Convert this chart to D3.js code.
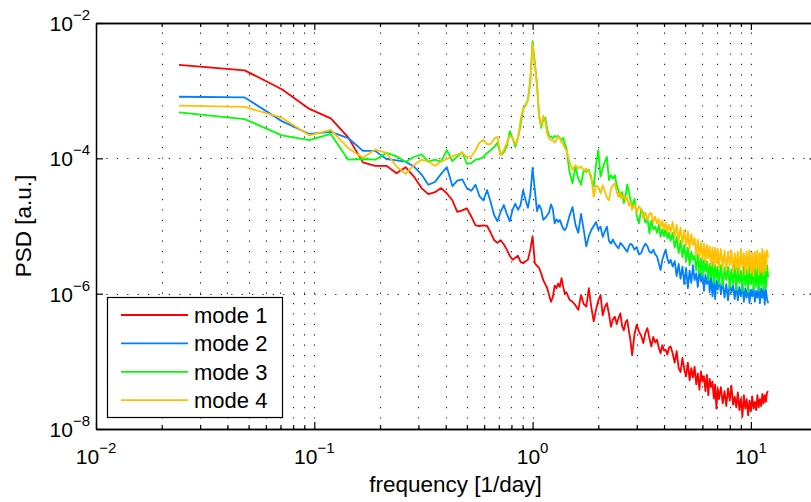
<!DOCTYPE html>
<html><head><meta charset="utf-8">
<script src="https://cdn.jsdelivr.net/npm/d3@7"></script>
<style>
body{margin:0;background:#fff}
svg{display:block}
text{font-family:"Liberation Sans",Arial,Helvetica,sans-serif;fill:#000}
</style>
</head><body>
<svg id="chart" width="811" height="502"></svg>
<script>
// frequency bins [1/day] (spectral resolution 1/42 day^-1)
const freq = [
0.024,0.048,0.071,0.095,0.119,0.143,0.167,0.190,0.214,0.238,
0.262,0.286,0.310,0.333,0.357,0.381,0.405,0.429,0.452,0.476,
0.500,0.524,0.548,0.571,0.595,0.619,0.643,0.667,0.690,0.714,
0.738,0.762,0.786,0.810,0.833,0.857,0.881,0.905,0.929,0.952,
0.976,1.000,1.024,1.048,1.071,1.095,1.119,1.143,1.167,1.190,
1.214,1.238,1.262,1.286,1.310,1.333,1.357,1.381,1.405,1.429,
1.476,1.524,1.571,1.619,1.667,1.714,1.762,1.810,1.857,1.905,
1.952,2.000,2.048,2.095,2.143,2.190,2.238,2.286,2.333,2.381,
2.429,2.476,2.524,2.571,2.619,2.667,2.714,2.762,2.810,2.857,
2.929,3.000,3.071,3.143,3.214,3.286,3.357,3.429,3.500,3.571,
3.643,3.714,3.786,3.857,3.929,4.000,4.071,4.143,4.214,4.286,
4.381,4.476,4.571,4.667,4.762,4.857,4.952,5.048,5.143,5.238,
5.333,5.429,5.524,5.619,5.714,5.810,5.905,6.000,6.095,6.190,
6.286,6.381,6.476,6.571,6.667,6.762,6.857,6.952,7.048,7.143,
7.286,7.429,7.571,7.714,7.857,8.000,8.143,8.286,8.429,8.571,
8.714,8.857,9.000,9.143,9.286,9.429,9.571,9.714,9.857,10.000,
10.143,10.286,10.429,10.571,10.714,10.857,11.000,11.143,11.286,11.429,
11.571,11.714,11.857,12.000
];

// PSD values, stored as log10(PSD [a.u.])
const mode1 = [
-2.62,-2.70,-2.98,-3.27,-3.41,-3.69,-4.06,-4.11,-4.11,-4.22,
-4.13,-4.27,-4.44,-4.53,-4.50,-4.44,-4.52,-4.62,-4.79,-4.77,
-4.74,-4.86,-4.99,-5.00,-4.99,-5.00,-5.10,-5.21,-5.25,-5.21,
-5.27,-5.35,-5.44,-5.50,-5.47,-5.44,-5.53,-5.55,-5.52,-5.50,
-5.35,-5.15,-5.55,-5.59,-5.62,-5.70,-5.80,-5.86,-5.92,-6.02,
-6.12,-6.05,-5.88,-5.92,-5.85,-5.90,-5.77,-5.90,-6.00,-5.98,
-6.09,-6.12,-6.17,-6.24,-6.02,-6.15,-6.19,-5.92,-6.20,-6.41,
-6.24,-6.10,-6.02,-6.32,-6.20,-6.14,-6.30,-6.49,-6.38,-6.34,
-6.45,-6.36,-6.29,-6.48,-6.54,-6.42,-6.39,-6.55,-6.70,-6.91,
-6.60,-6.46,-6.56,-6.62,-6.73,-6.58,-6.51,-6.66,-6.78,-6.64,
-6.72,-6.68,-6.80,-6.88,-6.76,-6.84,-6.83,-6.90,-6.80,-6.78,
-6.88,-7.02,-6.85,-7.10,-7.16,-6.95,-7.12,-7.22,-7.02,-7.28,
-7.10,-7.24,-7.08,-7.34,-7.18,-7.42,-7.15,-7.30,-7.22,-7.44,
-7.20,-7.50,-7.26,-7.38,-7.30,-7.55,-7.34,-7.70,-7.40,-7.56,
-7.38,-7.62,-7.44,-7.66,-7.40,-7.58,-7.36,-7.64,-7.52,-7.68,
-7.46,-7.72,-7.55,-7.82,-7.50,-7.70,-7.56,-7.80,-7.58,-7.74,
-7.52,-7.70,-7.60,-7.72,-7.50,-7.68,-7.56,-7.66,-7.48,-7.62,
-7.50,-7.60,-7.46,-7.44
];
const mode2 = [
-3.09,-3.10,-3.45,-3.64,-3.61,-3.70,-3.89,-3.89,-4.01,-4.03,
-4.05,-4.12,-4.24,-4.39,-4.35,-4.23,-4.13,-4.41,-4.33,-4.31,
-4.44,-4.48,-4.39,-4.56,-4.62,-4.47,-4.65,-4.84,-4.93,-4.79,
-4.69,-4.82,-4.93,-4.76,-4.67,-4.76,-4.69,-4.47,-4.62,-4.73,
-4.54,-4.14,-4.47,-4.78,-4.69,-4.75,-4.91,-4.88,-4.84,-4.80,
-4.68,-4.75,-4.96,-4.90,-4.94,-4.91,-4.98,-5.04,-5.06,-5.02,
-4.85,-4.72,-4.98,-5.10,-4.82,-5.05,-5.30,-5.15,-5.06,-5.00,
-4.94,-5.05,-5.01,-5.16,-5.08,-5.01,-5.22,-5.26,-5.20,-5.26,
-5.30,-5.33,-5.25,-5.28,-5.31,-5.35,-5.38,-5.30,-5.26,-5.28,
-5.35,-5.31,-5.42,-5.40,-5.32,-5.26,-5.30,-5.38,-5.40,-5.35,
-5.42,-5.45,-5.55,-5.65,-5.50,-5.42,-5.35,-5.48,-5.55,-5.50,
-5.60,-5.52,-5.74,-5.56,-5.78,-5.60,-5.86,-5.62,-5.92,-5.66,
-5.84,-5.58,-5.80,-5.70,-5.90,-5.64,-5.82,-5.68,-5.96,-5.72,
-5.86,-5.70,-5.98,-5.74,-6.04,-5.78,-6.08,-5.80,-5.94,-5.76,
-6.00,-5.82,-6.06,-5.86,-6.10,-5.84,-5.98,-5.88,-6.08,-5.86,
-6.10,-5.90,-6.04,-5.86,-6.12,-5.92,-6.06,-5.88,-6.14,-5.94,
-6.04,-5.90,-6.12,-5.96,-6.06,-5.88,-6.14,-5.92,-6.06,-5.90,
-6.16,-5.94,-6.08,-6.14
];
const mode3 = [
-3.32,-3.42,-3.66,-3.73,-3.64,-4.02,-4.01,-4.02,-3.92,-3.97,
-4.05,-3.98,-3.94,-4.05,-4.02,-4.05,-3.88,-4.04,-3.97,-3.91,
-4.08,-4.07,-4.02,-4.01,-3.98,-3.92,-3.88,-3.83,-3.77,-3.95,
-3.91,-3.82,-3.60,-3.70,-3.83,-3.70,-3.51,-3.27,-3.21,-3.14,
-2.84,-2.27,-2.58,-2.92,-3.36,-3.55,-3.43,-3.40,-3.58,-3.67,
-3.68,-3.70,-3.67,-3.68,-3.67,-3.70,-3.73,-3.70,-3.79,-3.85,
-4.20,-4.37,-4.12,-4.30,-4.39,-4.17,-4.20,-4.17,-4.30,-4.42,
-4.10,-3.88,-4.27,-4.15,-4.05,-3.98,-4.32,-4.25,-4.30,-4.25,
-4.40,-4.48,-4.57,-4.50,-4.66,-4.55,-4.39,-4.50,-4.62,-4.71,
-4.60,-4.85,-4.96,-4.75,-4.81,-4.95,-4.88,-5.11,-4.92,-5.05,
-5.01,-5.10,-4.98,-5.16,-5.05,-5.15,-5.06,-5.18,-5.10,-5.22,
-5.10,-5.32,-5.16,-5.40,-5.22,-5.46,-5.28,-5.52,-5.32,-5.58,
-5.38,-5.50,-5.44,-5.66,-5.42,-5.70,-5.48,-5.74,-5.50,-5.68,
-5.52,-5.80,-5.56,-5.76,-5.54,-5.84,-5.58,-5.78,-5.60,-5.86,
-5.58,-5.88,-5.62,-5.80,-5.60,-5.92,-5.64,-5.86,-5.58,-5.94,
-5.62,-5.84,-5.66,-5.96,-5.60,-5.88,-5.64,-5.98,-5.58,-5.86,
-5.56,-5.94,-5.62,-5.90,-5.60,-5.96,-5.56,-5.88,-5.60,-5.94,
-5.56,-5.92,-5.58,-5.76
];
const mode4 = [
-3.22,-3.24,-3.40,-3.66,-3.58,-3.85,-3.99,-3.87,-3.92,-4.12,
-4.23,-4.10,-4.02,-4.05,-4.11,-4.05,-4.01,-3.97,-3.94,-3.92,
-3.98,-3.97,-3.88,-3.77,-3.73,-3.79,-3.79,-3.71,-3.68,-3.95,
-3.88,-3.77,-3.67,-3.70,-3.79,-3.70,-3.43,-3.26,-3.23,-3.14,
-2.90,-2.31,-2.62,-2.92,-3.40,-3.52,-3.37,-3.46,-3.64,-3.70,
-3.73,-3.73,-3.77,-3.73,-3.68,-3.70,-3.76,-3.79,-3.85,-3.88,
-4.05,-4.17,-4.10,-4.15,-4.12,-4.18,-4.15,-4.20,-4.25,-4.57,
-4.40,-4.42,-4.52,-4.40,-4.49,-4.58,-4.62,-4.45,-4.40,-4.37,
-4.50,-4.57,-4.50,-4.60,-4.55,-4.62,-4.58,-4.70,-4.65,-4.76,
-4.68,-4.80,-4.71,-4.75,-4.88,-4.80,-4.91,-4.82,-4.81,-4.95,
-4.86,-4.96,-4.90,-5.02,-4.92,-5.06,-4.95,-5.08,-4.98,-5.10,
-4.94,-5.16,-4.98,-5.22,-5.02,-5.26,-5.06,-5.30,-5.08,-5.34,
-5.12,-5.28,-5.18,-5.44,-5.20,-5.46,-5.24,-5.50,-5.26,-5.54,
-5.28,-5.48,-5.30,-5.58,-5.32,-5.60,-5.32,-5.56,-5.34,-5.62,
-5.34,-5.62,-5.36,-5.66,-5.38,-5.58,-5.36,-5.68,-5.40,-5.64,
-5.38,-5.70,-5.34,-5.62,-5.40,-5.72,-5.38,-5.66,-5.36,-5.70,
-5.40,-5.74,-5.38,-5.64,-5.36,-5.72,-5.40,-5.68,-5.34,-5.72,
-5.38,-5.66,-5.36,-5.46
];

const seriesNames = ["mode 1", "mode 2", "mode 3", "mode 4"];
const seriesColors = ["#ff0000", "#0080ff", "#00ff00", "#ffc000"];
const xTickExponents = [-2, -1, 0, 1];
const yTickExponents = [-8, -6, -4, -2];
const xLabel = "frequency [1/day]";
const yLabel = "PSD [a.u.]";

const series = [mode1, mode2, mode3, mode4];

const svg = d3.select("#chart");
const plot = {left: 96, top: 23, bottom: 429, right: 816.6};

const x = d3.scaleLog().domain([0.01, 20]).range([plot.left, plot.right]);
const y = d3.scaleLog().domain([1e-8, 1e-2]).range([plot.bottom, plot.top]);

const xMajor = xTickExponents.map(e => Math.pow(10, e));
const xMinor = [];
xTickExponents.forEach(e => { for (let k = 2; k <= 9; k++) { const v = k * Math.pow(10, e); if (v <= 20) xMinor.push(v); } });
xMinor.push(20);
const yMajor = yTickExponents.map(e => Math.pow(10, e));

svg.append("defs").append("clipPath").attr("id", "clip")
  .append("rect").attr("x", plot.left).attr("y", plot.top)
  .attr("width", plot.right - plot.left).attr("height", plot.bottom - plot.top);

// grid (dotted)
const grid = svg.append("g").attr("stroke", "#1a1a1a").attr("stroke-width", 1.1)
  .attr("stroke-dasharray", "1.2,9.2").attr("fill", "none");
grid.selectAll("line.vx").data(xMajor.concat(xMinor).filter(v => v > 0.01))
  .join("line").attr("class", "vx")
  .attr("x1", d => Math.round(x(d)) + 0.5).attr("x2", d => Math.round(x(d)) + 0.5)
  .attr("y1", plot.bottom).attr("y2", plot.top);
grid.selectAll("line.hy").data(yMajor.filter(v => v > 1e-8 && v < 1e-2))
  .join("line").attr("class", "hy")
  .attr("y1", d => Math.round(y(d)) + 0.5).attr("y2", d => Math.round(y(d)) + 0.5)
  .attr("x1", plot.left).attr("x2", plot.right);

// series
const line = d3.line().x(d => x(d[0])).y(d => y(Math.pow(10, d[1])));
const lines = svg.append("g").attr("clip-path", "url(#clip)");
series.forEach((vals, i) => {
  const pts = freq.map((f, j) => [f, vals[j]]);
  lines.append("path").datum(pts)
    .attr("fill", "none").attr("stroke", seriesColors[i])
    .attr("stroke-width", 1.8).attr("stroke-linejoin", "round")
    .attr("d", line);
});

// axes (ticks pointing inward)
function styleAxis(g) {
  g.select(".domain").attr("stroke", "#000").attr("stroke-width", 1.5);
  g.selectAll(".tick line").attr("stroke", "#000").attr("stroke-width", 1.2);
  g.selectAll(".tick text").remove();
}
svg.append("g").attr("transform", `translate(0,${plot.bottom})`)
  .call(d3.axisBottom(x).tickValues(xMajor).tickSize(-7).tickSizeOuter(0).tickFormat(""))
  .call(styleAxis);
svg.append("g").attr("transform", `translate(0,${plot.bottom})`)
  .call(d3.axisBottom(x).tickValues(xMinor).tickSize(-4).tickSizeOuter(0).tickFormat(""))
  .call(styleAxis);
svg.append("g").attr("transform", `translate(0,${plot.top})`)
  .call(d3.axisTop(x).tickValues(xMajor).tickSize(-7).tickSizeOuter(0).tickFormat(""))
  .call(styleAxis);
svg.append("g").attr("transform", `translate(0,${plot.top})`)
  .call(d3.axisTop(x).tickValues(xMinor).tickSize(-4).tickSizeOuter(0).tickFormat(""))
  .call(styleAxis);
svg.append("g").attr("transform", `translate(${plot.left},0)`)
  .call(d3.axisLeft(y).tickValues(yMajor).tickSize(-7).tickSizeOuter(0).tickFormat(""))
  .call(styleAxis);
svg.append("g").attr("transform", `translate(${plot.right},0)`)
  .call(d3.axisRight(y).tickValues(yMajor).tickSize(-7).tickSizeOuter(0).tickFormat(""))
  .call(styleAxis);

// tick labels with superscript exponents
function powLabel(sel, e) {
  sel.append("tspan").attr("font-size", 21).text("10");
  sel.append("tspan").attr("font-size", 15).attr("dy", -11).text(e < 0 ? "\u2212" + (-e) : String(e));
}
xTickExponents.forEach(e => {
  const t = svg.append("text").attr("x", x(Math.pow(10, e))).attr("y", 464)
    .attr("text-anchor", "middle");
  powLabel(t, e);
});
yTickExponents.forEach(e => {
  const t = svg.append("text").attr("x", 90).attr("y", y(Math.pow(10, e)) + 8)
    .attr("text-anchor", "end");
  powLabel(t, e);
});

// axis titles
svg.append("text").attr("x", 455.5).attr("y", 491.5).attr("text-anchor", "middle")
  .attr("font-size", 22.5).text(xLabel);
svg.append("text").attr("transform", `translate(31,${(plot.top + plot.bottom) / 2}) rotate(-90)`)
  .attr("text-anchor", "middle").attr("font-size", 22.5).text(yLabel);

// legend
const lg = svg.append("g");
lg.append("rect").attr("x", 107.5).attr("y", 297.5).attr("width", 175).attr("height", 120)
  .attr("fill", "#fff").attr("stroke", "#000").attr("stroke-width", 1.2);
seriesNames.forEach((name, i) => {
  const cy = 315 + i * 28.4;
  lg.append("line").attr("x1", 121).attr("x2", 188).attr("y1", cy).attr("y2", cy)
    .attr("stroke", seriesColors[i]).attr("stroke-width", 1.8);
  lg.append("text").attr("x", 194).attr("y", cy + 8).attr("font-size", 22).text(name);
});
</script>
</body></html>
